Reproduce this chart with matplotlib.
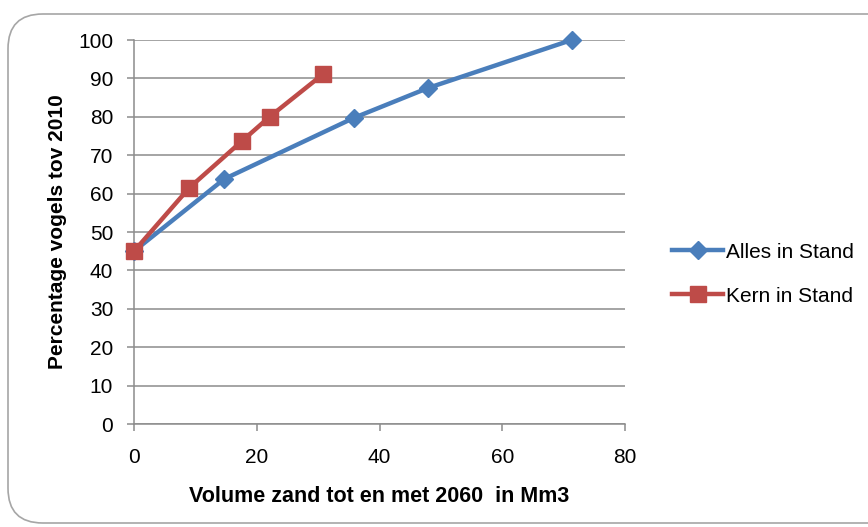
import matplotlib.pyplot as plt
from matplotlib.patches import FancyBboxPatch

# data
alles_x = [0, 14.7, 35.8, 47.9, 71.3]
alles_y = [45, 63.8, 79.7, 87.5, 100]
kern_x = [0, 9.0, 17.6, 22.1, 30.8]
kern_y = [45, 61.5, 73.7, 80.0, 91.1]

blue = "#4a7ebb"
red = "#be4b48"
grid_col = "#8c8c8c"
fam = ["Liberation Sans", "DejaVu Sans"]

fig = plt.figure(figsize=(8.68, 5.27), dpi=100)

# rounded chart frame (runs off the right edge in the original)
frame = FancyBboxPatch((8 / 868, 4 / 527), 1.2, (523 - 14) / 527,
                       boxstyle="round,pad=0,rounding_size=0.04",
                       transform=fig.transFigure, facecolor="white",
                       edgecolor="#a6a6a6", linewidth=1.2,
                       mutation_aspect=868 / 527, zorder=-5)
fig.patches.append(frame)

ax = fig.add_axes([134 / 868, 103 / 527, (625 - 134) / 868, (424 - 40) / 527])
ax.set_facecolor("none")

ax.plot(alles_x, alles_y, color=blue, lw=3.2, marker="D", ms=9,
        label="Alles in Stand", zorder=3, clip_on=False)
ax.plot(kern_x, kern_y, color=red, lw=3.2, marker="s", ms=12,
        label="Kern in Stand", zorder=4, clip_on=False)

ax.set_xlim(0, 80)
ax.set_ylim(0, 100)
ax.set_xticks(range(0, 81, 20))
ax.set_yticks(range(0, 101, 10))
ax.yaxis.grid(True, color=grid_col, lw=1.1)
ax.set_axisbelow(True)

for s in ["top", "right"]:
    ax.spines[s].set_visible(False)
for s in ["left", "bottom"]:
    ax.spines[s].set_color(grid_col)
    ax.spines[s].set_linewidth(1.1)
ax.tick_params(axis="both", direction="out", length=5, width=1.1, color=grid_col,
               labelsize=15, pad=10)
ax.tick_params(axis="x", pad=12)
for lab in ax.get_xticklabels() + ax.get_yticklabels():
    lab.set_family(fam)

ax.set_xlabel("Volume zand tot en met 2060  in Mm3", fontsize=15.5, fontweight="bold",
              family=fam, labelpad=14)
ax.set_ylabel("Percentage vogels tov 2010", fontsize=15, fontweight="bold",
              family=fam, labelpad=8)

leg = ax.legend(loc="center left", bbox_to_anchor=(664 / 868, 1 - 274 / 527),
                bbox_transform=fig.transFigure, borderaxespad=0, frameon=False,
                handlelength=2.45, handletextpad=0.15, labelspacing=1.2,
                prop={"family": fam, "size": 15})

fig.savefig("out.png", dpi=100)
